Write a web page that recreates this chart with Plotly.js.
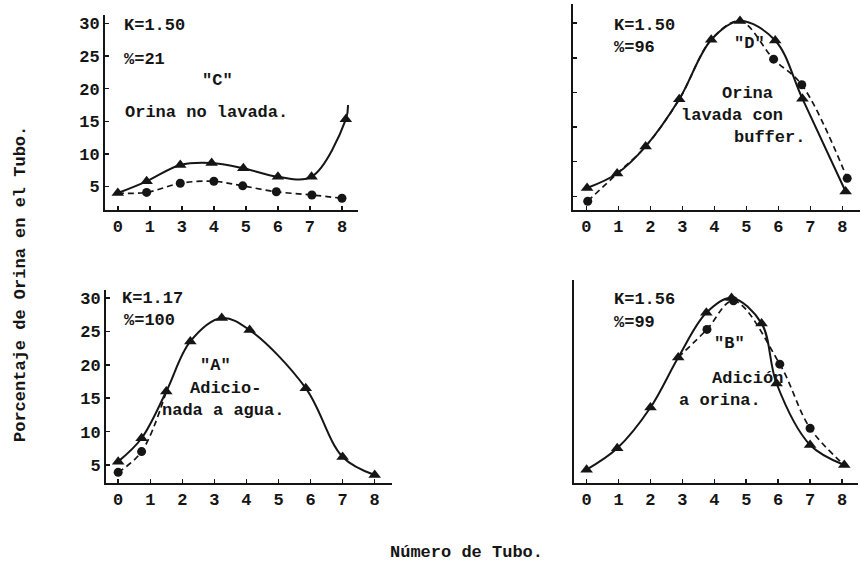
<!DOCTYPE html>
<html>
<head>
<meta charset="utf-8">
<script src="https://cdn.plot.ly/plotly-3.0.1.min.js"></script>
<style>html,body{margin:0;padding:0;background:#fff;}#chart{width:862px;height:563px;}</style>
</head>
<body>
<div id="chart"></div>
<script>
// ---- Panel "C" (top-left): Orina no lavada ----
const cTicks = ["0","1","3","4","5","6","7","8"];
const cTriX = [0, 0.9, 1.95, 2.93, 3.92, 5.0, 6.05, 7.12, 7.19];
const cTriY = [4.0, 5.8, 8.3, 8.6, 7.8, 6.5, 6.5, 15.3, 17.5];
const cCircX = [0, 0.9, 1.95, 3.0, 3.9, 4.95, 6.06, 7.0];
const cCircY = [4.0, 4.1, 5.5, 5.8, 5.1, 4.2, 3.7, 3.2];

// ---- Panel "D" (top-right): Orina lavada con buffer ----
const dTicks = ["0","1","2","3","4","5","6","7","8"];
const dTriX = [0.02, 0.96, 1.85, 2.9, 3.9, 4.8, 5.9, 6.75, 8.1];
const dTriY = [6.2, 8.3, 12.2, 19.0, 27.6, 30.3, 27.5, 19.1, 5.7];
const dCircX = [0.04, 0.96, 1.85, 2.9, 3.9, 4.8, 5.85, 6.73, 8.15];
const dCircY = [4.3, 8.3, 12.2, 19.0, 27.6, 30.3, 24.8, 21.1, 7.6];
const dCircShownX = [0.04, 5.85, 6.73, 8.15];
const dCircShownY = [4.3, 24.8, 21.1, 7.6];

// ---- Panel "A" (bottom-left): Adicionada a agua ----
const aTicks = ["0","1","2","3","4","5","6","7","8"];
const aTriX = [0, 0.73, 1.5, 2.25, 3.23, 4.1, 5.85, 7.0, 8.0];
const aTriY = [5.5, 9.0, 16.0, 23.5, 27.0, 25.2, 16.5, 6.2, 3.5];
const aCircX = [0, 0.73, 1.5];
const aCircY = [3.9, 7.0, 16.0];
const aCircShownX = [0, 0.73];
const aCircShownY = [3.9, 7.0];

// ---- Panel "B" (bottom-right): Adición a orina ----
const bTicks = ["0","1","2","3","4","5","6","7","8"];
const bTriX = [0, 0.96, 2.0, 2.87, 3.75, 4.54, 5.48, 5.95, 7.0, 8.07];
const bTriY = [4.3, 7.5, 13.6, 21.1, 27.8, 30.0, 26.2, 17.2, 8.0, 5.0];
const bCircX = [2.87, 3.77, 4.6, 6.05, 7.0, 8.07];
const bCircY = [21.1, 25.3, 29.6, 20.1, 10.5, 5.0];
const bCircShownX = [3.77, 4.6, 6.05, 7.0];
const bCircShownY = [25.3, 29.6, 20.1, 10.5];

const yTickVals = [5, 10, 15, 20, 25, 30];

const W = 862, H = 563;
const px = v => v / W;
const py = v => 1 - v / H;
const INK = '#151515';
const FONT = 'Liberation Mono, Courier New, monospace';

function solid(x, y, xa, ya, withMarkers) {
  return {x: x, y: y, xaxis: xa, yaxis: ya, type: 'scatter',
    mode: withMarkers ? 'lines+markers' : 'lines',
    line: {color: INK, width: 2, shape: 'spline', smoothing: 1},
    marker: {symbol: 'triangle-up', size: 11, color: INK},
    hoverinfo: 'skip', showlegend: false};
}
function dashed(x, y, xa, ya) {
  return {x: x, y: y, xaxis: xa, yaxis: ya, type: 'scatter', mode: 'lines',
    line: {color: INK, width: 1.7, dash: '6px,4px', shape: 'spline', smoothing: 1},
    hoverinfo: 'skip', showlegend: false};
}
function dots(x, y, xa, ya) {
  return {x: x, y: y, xaxis: xa, yaxis: ya, type: 'scatter', mode: 'markers',
    marker: {symbol: 'circle', size: 9, color: INK},
    hoverinfo: 'skip', showlegend: false};
}
function tris(x, y, xa, ya) {
  return {x: x, y: y, xaxis: xa, yaxis: ya, type: 'scatter', mode: 'markers',
    marker: {symbol: 'triangle-up', size: 11, color: INK},
    hoverinfo: 'skip', showlegend: false};
}

const data = [
  // C
  dashed(cCircX, cCircY, 'x', 'y'),
  dots(cCircX.slice(1), cCircY.slice(1), 'x', 'y'),
  solid(cTriX, cTriY, 'x', 'y', false),
  tris(cTriX.slice(0, 8), cTriY.slice(0, 8), 'x', 'y'),
  // D
  dashed(dCircX, dCircY, 'x2', 'y2'),
  dots(dCircShownX, dCircShownY, 'x2', 'y2'),
  solid(dTriX, dTriY, 'x2', 'y2', true),
  // A
  dashed(aCircX, aCircY, 'x3', 'y3'),
  dots(aCircShownX, aCircShownY, 'x3', 'y3'),
  solid(aTriX, aTriY, 'x3', 'y3', true),
  // B
  dashed(bCircX, bCircY, 'x4', 'y4'),
  dots(bCircShownX, bCircShownY, 'x4', 'y4'),
  solid(bTriX, bTriY, 'x4', 'y4', true)
];

function xAxis(domain, range, labels, anchor) {
  return {domain: domain, range: range, anchor: anchor,
    tickmode: 'array', tickvals: labels.map((_, i) => i), ticktext: labels,
    showline: true, linecolor: INK, linewidth: 2, mirror: false,
    showgrid: false, zeroline: false,
    ticks: 'inside', ticklen: 4, tickwidth: 1.5, tickcolor: INK,
    tickfont: {family: FONT, size: 17, color: INK, weight: 'bold'},
    fixedrange: true};
}
function yAxis(domain, range, anchor, labelled, ticks) {
  return {domain: domain, range: range, anchor: anchor,
    tickmode: 'array', tickvals: yTickVals,
    ticktext: labelled ? yTickVals.map(String) : yTickVals.map(() => ''),
    showticklabels: labelled,
    showline: true, linecolor: INK, linewidth: 2,
    showgrid: false, zeroline: false,
    ticks: ticks, ticklen: 4, tickwidth: 1.5, tickcolor: INK,
    tickfont: {family: FONT, size: 17, color: INK, weight: 'bold'},
    fixedrange: true};
}

function note(text, x, y, anchor, angle) {
  return {text: text, xref: 'paper', yref: 'paper', x: px(x), y: py(y),
    xanchor: anchor || 'left', yanchor: 'middle', showarrow: false,
    textangle: angle || 0,
    font: {family: FONT, size: 17, color: INK, weight: 'bold'}};
}

const layout = {
  width: W, height: H,
  margin: {l: 0, r: 0, t: 0, b: 0},
  paper_bgcolor: '#ffffff', plot_bgcolor: 'rgba(0,0,0,0)',
  showlegend: false,
  xaxis:  xAxis([px(105), px(358)], [-0.4, 7.5], cTicks, 'y'),
  yaxis:  yAxis([py(210), py(15)], [1.4, 31.3], 'x', true, 'inside'),
  xaxis2: xAxis([px(573), px(860)], [-0.42, 8.55], dTicks, 'y2'),
  yaxis2: yAxis([py(210), py(4)], [3.03, 32.76], 'x2', false, 'inside'),
  xaxis3: xAxis([px(106), px(392)], [-0.38, 8.54], aTicks, 'y3'),
  yaxis3: yAxis([py(483), py(290)], [2.3, 31.2], 'x3', true, 'inside'),
  xaxis4: xAxis([px(573.5), px(858)], [-0.41, 8.5], bTicks, 'y4'),
  yaxis4: yAxis([py(483), py(280)], [2.3, 32.7], 'x4', false, ''),
  annotations: [
    note('K=1.50', 122, 25), note('%=21', 122, 60),
    note('"C"', 200, 80), note('Orina no lavada.', 123, 113),
    note('K=1.50', 612, 26), note('%=96', 612, 48),
    note('"D"', 732, 43), note('Orina', 720, 93),
    note('lavada con', 679, 115), note('buffer.', 732, 137),
    note('K=1.17', 120, 298), note('%=100', 122, 320),
    note('"A"', 198, 365), note('Adicio-', 188, 388),
    note('nada a agua.', 160, 410),
    note('K=1.56', 612, 299), note('%=99', 612, 322),
    note('"B"', 712, 343), note('Adición', 710, 378),
    note('a orina.', 677, 400),
    note('Porcentaje de Orina en el Tubo.', 20, 284, 'center', -90),
    note('Número de Tubo.', 388, 552)
  ]
};

Plotly.newPlot('chart', data, layout, {staticPlot: true, displayModeBar: false});
</script>
</body>
</html>
